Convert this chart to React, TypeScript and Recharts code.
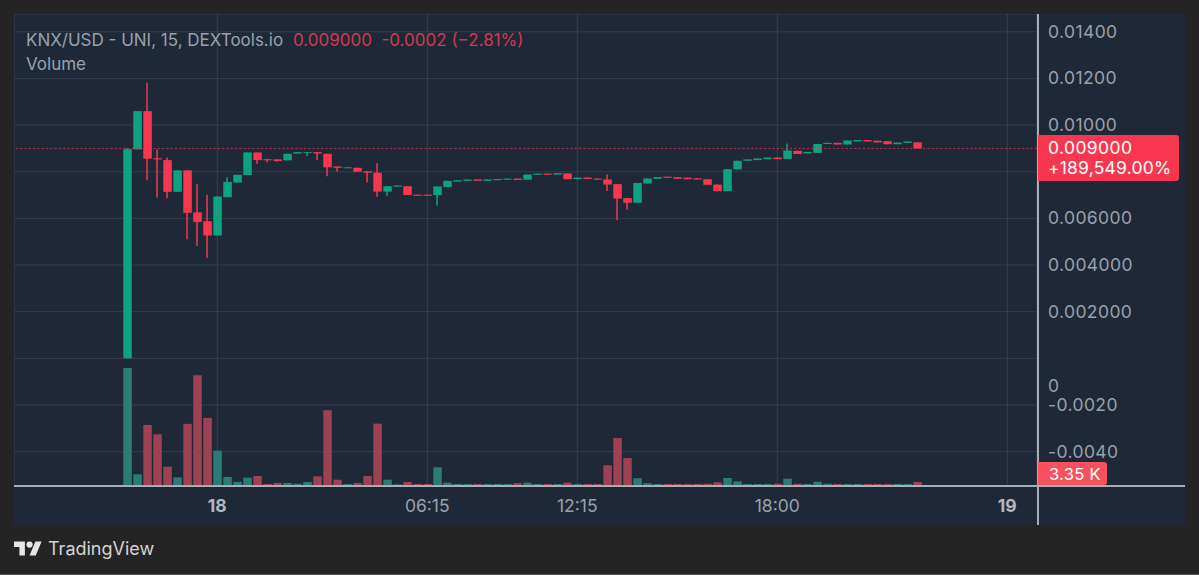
import { ComposedChart, Bar, Cell, XAxis, YAxis, CartesianGrid, ReferenceLine } from 'recharts';

const opens = [
  0.000005, 0.00896, 0.0106, 0.00858, 0.0085, 0.00714, 0.00806, 0.00626, 0.00588, 0.00527,
  0.00691, 0.00754, 0.00786, 0.00883, 0.00854, 0.00853, 0.00849, 0.00878, 0.0088, 0.00884,
  0.00877, 0.00823, 0.00815, 0.00817, 0.00802, 0.00796, 0.00715, 0.00736, 0.00738, 0.00702,
  0.00702, 0.007, 0.00735, 0.00758, 0.00761, 0.00767, 0.00761, 0.00764, 0.00766, 0.00771,
  0.00766, 0.00787, 0.00792, 0.00788, 0.00793, 0.00769, 0.00775, 0.00771, 0.00767, 0.00747,
  0.00687, 0.00667, 0.0075, 0.0077, 0.00779, 0.00777, 0.00775, 0.00772, 0.00768, 0.00745,
  0.00717, 0.0081, 0.00847, 0.0085, 0.00854, 0.00861, 0.00855, 0.0089, 0.00879, 0.00881,
  0.00919, 0.00924, 0.00917, 0.0093, 0.00936, 0.00933, 0.00931, 0.00918, 0.00924, 0.00926,
];
const closes = [
  0.00897, 0.0106, 0.00856, 0.00853, 0.00714, 0.00806, 0.00624, 0.00585, 0.00527, 0.00694,
  0.00757, 0.00787, 0.00883, 0.0085, 0.00849, 0.00846, 0.00877, 0.00884, 0.00884, 0.00878,
  0.00819, 0.00817, 0.00819, 0.008, 0.00796, 0.00715, 0.00738, 0.00741, 0.007, 0.00697,
  0.00697, 0.00737, 0.00761, 0.00764, 0.00767, 0.00761, 0.00767, 0.00769, 0.00771, 0.00765,
  0.00788, 0.00792, 0.00787, 0.00794, 0.00768, 0.00775, 0.00769, 0.00766, 0.00745, 0.00685,
  0.00667, 0.00752, 0.00771, 0.00777, 0.00774, 0.0077, 0.00768, 0.00767, 0.00744, 0.00717,
  0.00811, 0.00847, 0.00853, 0.00857, 0.00861, 0.00854, 0.00891, 0.00876, 0.00885, 0.00919,
  0.00924, 0.00917, 0.00934, 0.00936, 0.0093, 0.00926, 0.00918, 0.00925, 0.0093, 0.009,
];
const highs = [
  0.00902, 0.0106, 0.01182, 0.00896, 0.00861, 0.00806, 0.00806, 0.00747, 0.00701, 0.00694,
  0.00777, 0.00787, 0.00883, 0.00883, 0.00856, 0.00853, 0.00877, 0.00884, 0.00884, 0.00884,
  0.00877, 0.00823, 0.00819, 0.00817, 0.00802, 0.00837, 0.00738, 0.00741, 0.00738, 0.00702,
  0.00702, 0.00737, 0.00761, 0.00764, 0.00767, 0.00767, 0.00767, 0.00769, 0.00771, 0.00771,
  0.00788, 0.00792, 0.00792, 0.00794, 0.00793, 0.00775, 0.00775, 0.00771, 0.00788, 0.00747,
  0.00687, 0.00752, 0.00771, 0.00777, 0.00779, 0.00777, 0.00775, 0.00772, 0.00768, 0.00745,
  0.00811, 0.00847, 0.00853, 0.00857, 0.00861, 0.00861, 0.00921, 0.0089, 0.00885, 0.00919,
  0.00924, 0.00924, 0.00934, 0.00936, 0.00936, 0.00933, 0.00931, 0.00925, 0.0093, 0.00926,
];
const lows = [
  0.000005, 0.00896, 0.00764, 0.0069, 0.00687, 0.00714, 0.00511, 0.00482, 0.00431, 0.00527,
  0.00691, 0.00754, 0.00786, 0.00833, 0.00841, 0.00843, 0.00849, 0.00878, 0.00868, 0.0085,
  0.00781, 0.008, 0.00815, 0.008, 0.00754, 0.00693, 0.00697, 0.00736, 0.007, 0.00697,
  0.00697, 0.00655, 0.00735, 0.00758, 0.00761, 0.00761, 0.00761, 0.00764, 0.00766, 0.00765,
  0.00766, 0.00787, 0.00787, 0.00788, 0.00768, 0.00769, 0.00769, 0.00766, 0.00718, 0.00592,
  0.00638, 0.00667, 0.0075, 0.0077, 0.00774, 0.0077, 0.00768, 0.00767, 0.00744, 0.00717,
  0.00717, 0.0081, 0.00847, 0.0085, 0.00854, 0.00854, 0.00855, 0.00876, 0.00879, 0.00881,
  0.00919, 0.00917, 0.00917, 0.0093, 0.0093, 0.00926, 0.00918, 0.00918, 0.00924, 0.009,
];
// volume in thousands
const volumes = [
  98.9, 9.8, 51.2, 43.4, 16.2, 7.3, 52.1, 93, 57.1, 29.7,
  7.6, 3.4, 7, 8.4, 1.7, 2.5, 2.5, 1.9, 3.4, 8.1,
  63.6, 5.3, 1.7, 2.5, 8.4, 52.3, 5.3, 1.4, 3.4, 1.7,
  1.7, 15.7, 2.8, 1.7, 1.7, 1.7, 1.7, 1.7, 1.7, 2.3,
  2.8, 1.7, 1.7, 1.7, 2.8, 1.7, 1.7, 1.7, 17.4, 40.3,
  23.5, 6.5, 2.3, 1.7, 1.7, 1.7, 1.7, 1.7, 1.9, 3.1,
  6.7, 3.9, 1.7, 1.7, 1.7, 1.9, 6.1, 1.9, 1.7, 3.6,
  1.9, 1.7, 1.7, 1.7, 1.7, 1.7, 1.7, 1.7, 1.7, 3.35,
];

const timeTicks = [9, 30, 45, 65, 88];
const timeLabels = ['18', '06:15', '12:15', '18:00', '19'];
const priceTicks = [0.014, 0.012, 0.01, 0.008, 0.006, 0.004, 0.002, 0, -0.002, -0.004];
const priceLabels = ['0.01400', '0.01200', '0.01000', '', '0.006000', '0.004000', '0.002000', '0', '-0.0020', '-0.0040'];
const lastPrice = 0.009;

const UP = '#0fa27f';
const DOWN = '#f7374f';
const VOL_UP = '#2a7c74';
const VOL_DOWN = '#9e4152';
const GRID = '#353e4e';
const AXIS = '#a9adb4';
const TEXT = '#9ba1aa';
const FONT = 'Inter, sans-serif';

const rows = opens.map((open, i) => ({
  i,
  body: [Math.min(open, closes[i]), Math.max(open, closes[i])],
  wick: [lows[i], highs[i]],
  volume: volumes[i],
  up: closes[i] >= open,
}));

const xDomain: [number, number] = [-11.33, 90.97];

function PriceTick({ x, y, payload }: any) {
  const label = priceLabels[priceTicks.indexOf(payload.value)];
  // the reference prints its zero label well below the zero level
  const shift = payload.value === 0 ? 28 : 0;
  return (
    <text x={x + 3} y={y + shift + 6} fill={TEXT} fontSize={17.5} fontFamily={FONT} letterSpacing={0.4}>
      {label}
    </text>
  );
}

function TimeTick({ x, y, payload }: any) {
  const label = timeLabels[timeTicks.indexOf(payload.value)];
  const bold = label.length === 2;
  return (
    <text x={x} y={y + 18} textAnchor="middle" fill={bold ? '#b4b8be' : TEXT} fontSize={bold ? 17.5 : 17.5} fontWeight={bold ? 700 : 400} fontFamily={FONT}>
      {label}
    </text>
  );
}

function Overlay({ left, top, children, style }: any) {
  return (
    <div style={{ position: 'absolute', left, top, whiteSpace: 'pre', fontFamily: FONT, ...style }}>{children}</div>
  );
}

export default function App() {
  return (
    <div style={{ position: 'fixed', left: 0, top: 0, width: 1199, height: 575, background: '#242424', overflow: 'hidden' }}>
      <div style={{ position: 'absolute', left: 14, top: 14, width: 1171, height: 511, background: '#1f2837' }}>
        <ComposedChart width={1171} height={511} data={rows} margin={{ top: 0, right: 0, left: 0, bottom: 0 }}>
          <CartesianGrid xAxisId="wick" yAxisId="price" stroke={GRID} strokeWidth={1} />
          <XAxis xAxisId="wick" dataKey="i" type="number" domain={xDomain} ticks={timeTicks} interval={0} height={39} tickLine={false} axisLine={false} tick={<TimeTick />} allowDataOverflow />
          <XAxis xAxisId="body" dataKey="i" type="number" domain={xDomain} hide height={0} allowDataOverflow />
          <XAxis xAxisId="vol" dataKey="i" type="number" domain={xDomain} hide height={0} allowDataOverflow />
          <YAxis yAxisId="price" orientation="right" width={148} domain={[-0.005472, 0.014764]} ticks={priceTicks} interval={0} tickLine={false} axisLine={false} tick={<PriceTick />} allowDataOverflow />
          <YAxis yAxisId="volume" hide domain={[0, 396]} allowDataOverflow />
          <Bar xAxisId="vol" yAxisId="volume" dataKey="volume" barSize={8.5} isAnimationActive={false}>
            {rows.map((r) => (
              <Cell key={r.i} fill={r.up ? VOL_UP : VOL_DOWN} />
            ))}
          </Bar>
          <ReferenceLine xAxisId="wick" yAxisId="price" y={lastPrice} stroke={DOWN} strokeDasharray="2 2.3" strokeWidth={1} strokeOpacity={0.75} />
          <Bar xAxisId="wick" yAxisId="price" dataKey="wick" barSize={1.5} isAnimationActive={false}>
            {rows.map((r) => (
              <Cell key={r.i} fill={r.up ? UP : DOWN} />
            ))}
          </Bar>
          <Bar xAxisId="body" yAxisId="price" dataKey="body" barSize={8.5} isAnimationActive={false}>
            {rows.map((r) => (
              <Cell key={r.i} fill={r.up ? UP : DOWN} />
            ))}
          </Bar>
        </ComposedChart>
      </div>

      {/* axis rules */}
      <div style={{ position: 'absolute', left: 14, top: 485, width: 1171, height: 1.5, background: AXIS }} />
      <div style={{ position: 'absolute', left: 1037, top: 14, width: 1.5, height: 511, background: AXIS }} />

      {/* legend */}
      <Overlay left={26} top={30} style={{ fontSize: 17, color: TEXT }}>
        KNX/USD - UNI, 15, DEXTools.io
      </Overlay>
      <Overlay left={293} top={30} style={{ fontSize: 17, color: '#cf3b4e' }}>
        0.009000  -0.0002 (−2.81%)
      </Overlay>
      <Overlay left={26} top={54} style={{ fontSize: 17, color: TEXT }}>
        Volume
      </Overlay>

      {/* last price tag */}
      <div style={{ position: 'absolute', left: 1038, top: 135, width: 141, height: 46, background: '#f7374f', borderRadius: '0 3px 3px 0' }} />
      <Overlay left={1048} top={138} style={{ fontSize: 17.5, color: '#fff', lineHeight: '20px', letterSpacing: 0.4 }}>
        0.009000
      </Overlay>
      <Overlay left={1048} top={158} style={{ fontSize: 17.5, color: '#fff', lineHeight: '20px', letterSpacing: 0.2 }}>
        +189,549.00%
      </Overlay>

      {/* last volume tag */}
      <div style={{ position: 'absolute', left: 1038, top: 462, width: 69, height: 23, background: '#f5515f', borderRadius: '0 3px 3px 0' }} />
      <Overlay left={1049} top={464} style={{ fontSize: 16.5, color: '#fff', lineHeight: '20px', letterSpacing: 0.3 }}>
        3.35 K
      </Overlay>

      {/* attribution */}
      <svg style={{ position: 'absolute', left: 14, top: 541 }} width={28} height={15} viewBox="0 4 36 18">
        <path d="M14 22H7V11H0V4h14v18zM28 22h-8l7.5-18h8L28 22z" fill="#e6e6e6" />
        <circle cx={20} cy={8} r={4} fill="#e6e6e6" />
      </svg>
      <Overlay left={48} top={538} style={{ fontSize: 18, color: '#d4d4d4' }}>
        TradingView
      </Overlay>
      <div style={{ position: 'absolute', left: 0, top: 574, width: 1199, height: 1, background: '#555' }} />
    </div>
  );
}
